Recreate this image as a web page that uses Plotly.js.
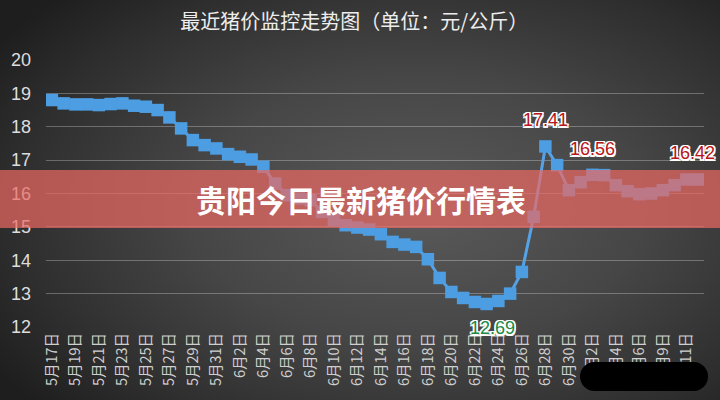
<!DOCTYPE html>
<html>
<head>
<meta charset="utf-8">
<script src="https://cdn.plot.ly/plotly-3.0.1.min.js"></script>
<style>
html,body{margin:0;padding:0;}
#wrap{position:relative;width:720px;height:400px;overflow:hidden;
background:radial-gradient(ellipse 70% 75% at 58% 52%, #5a5a5a 0%, #464646 45%, #2e2e2e 80%, #1e1e1e 100%);}
#chart{position:absolute;left:0;top:0;width:720px;height:400px;}
#mask{position:absolute;left:580px;top:362px;width:128px;height:29px;background:#000;border-radius:15px;}
</style>
</head>
<body>
<div id="wrap"><div id="chart"></div><div id="mask"></div></div>
<script>
const dates = [
 "5月17日","5月18日","5月19日","5月20日","5月21日","5月22日","5月23日","5月24日","5月25日","5月26日",
 "5月27日","5月28日","5月29日","5月30日","5月31日",
 "6月1日","6月2日","6月3日","6月4日","6月5日","6月6日","6月7日","6月8日","6月9日","6月10日",
 "6月11日","6月12日","6月13日","6月14日","6月15日","6月16日","6月17日","6月18日","6月19日","6月20日",
 "6月21日","6月22日","6月23日","6月24日","6月25日","6月26日","6月27日","6月28日","6月29日","6月30日",
 "7月1日","7月2日","7月3日","7月4日","7月5日","7月6日","7月8日","7月9日","7月10日","7月11日","7月12日"
];
const prices = [
 18.80,18.70,18.67,18.67,18.65,18.68,18.70,18.63,18.60,18.50,
 18.28,17.95,17.60,17.45,17.35,
 17.18,17.10,17.02,16.80,16.30,15.95,15.85,15.80,15.45,15.20,
 15.05,14.98,14.92,14.78,14.55,14.47,14.40,14.03,13.47,13.05,
 12.87,12.75,12.69,12.78,13.00,13.65,15.30,17.41,16.85,16.10,
 16.34,16.56,16.55,16.25,16.07,15.98,16.00,16.10,16.25,16.42,16.42
];
const tickLabels = [
 "5月17日","5月19日","5月21日","5月23日","5月25日","5月27日","5月29日","5月31日",
 "6月2日","6月4日","6月6日","6月8日","6月10日","6月12日","6月14日","6月16日","6月18日",
 "6月20日","6月22日","6月24日","6月26日","6月28日","6月30日",
 "7月2日","7月4日","7月6日","7月9日","7月11日"
];
const highLabelDates = ["6月28日","7月2日","7月12日"];
const lowLabelDates = ["6月23日"];
const yTicks = [12,13,14,15,16,17,18,19,20];

const titleText = "最近猪价监控走势图（单位：元/公斤）";
const bannerText = "贵阳今日最新猪价行情表";

const halo = "1.5px 1.5px 0 #fff, -1.5px -1.5px 0 #fff, 1.5px -1.5px 0 #fff, -1.5px 1.5px 0 #fff, 0 1.5px 0 #fff, 0 -1.5px 0 #fff, 1.5px 0 0 #fff, -1.5px 0 0 #fff";

const annotations = [];
highLabelDates.forEach((d, k) => {
  const i = dates.indexOf(d);
  annotations.push({
    x: d, y: prices[i], xref: "x", yref: "y", text: prices[i].toFixed(2),
    showarrow: false, yshift: 26, xshift: (k === 2 ? -6 : 0),
    font: {family: "Liberation Sans, Arial, sans-serif", size: 18, color: "#b8141a", shadow: halo}
  });
});
lowLabelDates.forEach(d => {
  const i = dates.indexOf(d);
  annotations.push({
    x: d, y: prices[i], xref: "x", yref: "y", text: prices[i].toFixed(2),
    showarrow: false, yshift: -24, xshift: 6,
    font: {family: "Liberation Sans, Arial, sans-serif", size: 18, color: "#188a44", shadow: halo}
  });
});
annotations.push({
  x: 0.479, y: 0.479, xref: "paper", yref: "paper", text: "<b>" + bannerText + "</b>",
  showarrow: false, xanchor: "center", yanchor: "middle",
  font: {family: "Noto Sans CJK SC, sans-serif", size: 30, color: "#ffffff"}
});

const trace = {
  x: dates, y: prices, type: "scatter", mode: "lines+markers",
  line: {color: "#55a3e6", width: 3},
  marker: {symbol: "square", size: 12.5, color: "#4c9de2"},
  hoverinfo: "x+y"
};

const layout = {
  width: 720, height: 400,
  paper_bgcolor: "rgba(0,0,0,0)", plot_bgcolor: "rgba(0,0,0,0)",
  margin: {l: 46, r: 16, t: 60, b: 73},
  showlegend: false,
  title: {text: titleText, x: 0.492, xanchor: "center", y: 0.945, yanchor: "middle",
          font: {family: "Noto Sans CJK SC, sans-serif", size: 20, color: "#eeeeee"}},
  xaxis: {type: "category", range: [-0.5, dates.length - 0.5],
          tickmode: "array", tickvals: tickLabels, ticktext: tickLabels,
          tickangle: -90, showgrid: false, zeroline: false, showline: false, ticks: "",
          ticklabelstandoff: 2,
          tickfont: {family: "Noto Sans CJK SC, sans-serif", size: 14.5, color: "#cfcfcf"},
          fixedrange: true},
  yaxis: {range: [12, 20], tickmode: "array", tickvals: yTicks,
          showgrid: true, gridcolor: "rgba(255,255,255,0.28)", gridwidth: 1,
          zeroline: false, showline: false, ticks: "", ticklabelstandoff: 14,
          tickfont: {family: "Liberation Sans, Arial, sans-serif", size: 18, color: "#dddddd"},
          fixedrange: true},
  shapes: [{
    type: "rect", xref: "paper", yref: "paper", x0: -0.08, x1: 1.03, y0: 0.371, y1: 0.588,
    fillcolor: "rgba(238,104,98,0.70)", line: {width: 0}, layer: "above"
  }],
  annotations: annotations
};

Plotly.newPlot("chart", [trace], layout, {displayModeBar: false, staticPlot: true});
</script>
</body>
</html>
